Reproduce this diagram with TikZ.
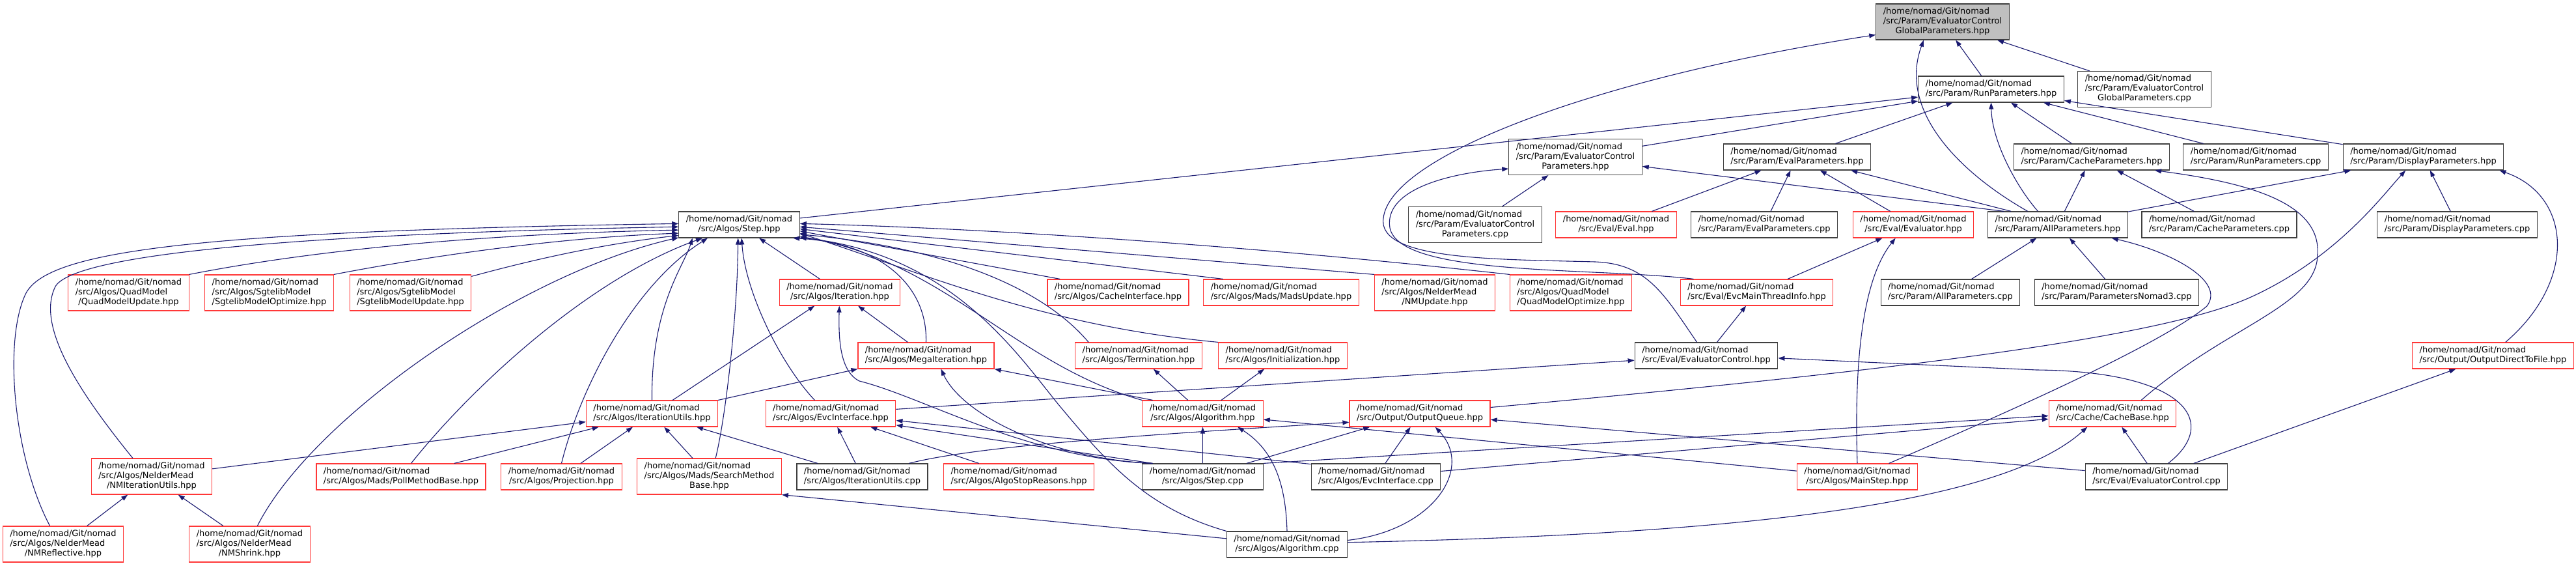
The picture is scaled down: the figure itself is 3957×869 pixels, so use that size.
\documentclass[tikz,border=0pt]{standalone}
\usepackage{fontspec}
\setmainfont{DejaVu Sans}
\usepackage{tikz}
\usetikzlibrary{arrows.meta}
\definecolor{edgeblue}{RGB}{25,25,112}
\definecolor{linkred}{RGB}{255,55,55}
\newcommand{\nomadpath}[1]{\begin{tabular}{@{}l@{}}/home/nomad/Git/nomad\\\multicolumn{1}{@{}c@{}}{#1}\end{tabular}}
\newcommand{\nomadpathii}[2]{\begin{tabular}{@{}l@{}}/home/nomad/Git/nomad\\#1\\\multicolumn{1}{@{}c@{}}{#2}\end{tabular}}
\begin{document}
\begin{tikzpicture}[x=1pt, y=-1pt,
  hdr/.style={rectangle, draw=black!75, fill=white, line width=1.2pt,
              inner xsep=11pt, inner ysep=5pt, font=\fontsize{13}{15}\selectfont},
  redhdr/.style={hdr, draw=linkred},
  roothdr/.style={hdr, fill=black!25},
  incl/.style={-{Stealth[length=10pt, width=7pt, inset=0pt]}, line width=1.1pt, edgeblue}
]
\useasboundingbox (0,0) rectangle (3957,869);

\node[roothdr] (root) at (2984,33.5) {\nomadpathii{/src/Param/EvaluatorControl}{GlobalParameters.hpp}};
\node[hdr] (runH) at (3058.5,137) {\nomadpath{/src/Param/RunParameters.hpp}};
\node[hdr] (ecgpC) at (3294,137) {\nomadpathii{/src/Param/EvaluatorControl}{GlobalParameters.cpp}};
\node[hdr] (ecpH) at (2420,241) {\nomadpathii{/src/Param/EvaluatorControl}{Parameters.hpp}};
\node[hdr] (evpH) at (2760.5,241) {\nomadpath{/src/Param/EvalParameters.hpp}};
\node[hdr] (cachepH) at (3213,241) {\nomadpath{/src/Param/CacheParameters.hpp}};
\node[hdr] (runC) at (3465,241) {\nomadpath{/src/Param/RunParameters.cpp}};
\node[hdr] (dispH) at (3722.5,241) {\nomadpath{/src/Param/DisplayParameters.hpp}};
\node[hdr] (stepH) at (1135.5,345) {\nomadpath{/src/Algos/Step.hpp}};
\node[hdr] (ecpC) at (2266,345) {\nomadpathii{/src/Param/EvaluatorControl}{Parameters.cpp}};
\node[redhdr] (evalH) at (2482.5,345) {\nomadpath{/src/Eval/Eval.hpp}};
\node[hdr] (evpC) at (2710,345) {\nomadpath{/src/Param/EvalParameters.cpp}};
\node[redhdr] (evaluatorH) at (2939,345) {\nomadpath{/src/Eval/Evaluator.hpp}};
\node[hdr] (allpH) at (3161,345) {\nomadpath{/src/Param/AllParameters.hpp}};
\node[hdr] (cachepC) at (3409,345) {\nomadpath{/src/Param/CacheParameters.cpp}};
\node[hdr] (dispC) at (3774.5,345) {\nomadpath{/src/Param/DisplayParameters.cpp}};
\node[redhdr] (qmUpd) at (197.5,449.5) {\nomadpathii{/src/Algos/QuadModel}{/QuadModelUpdate.hpp}};
\node[redhdr] (sgOpt) at (413.5,449.5) {\nomadpathii{/src/Algos/SgtelibModel}{/SgtelibModelOptimize.hpp}};
\node[redhdr] (sgUpd) at (630.5,449.5) {\nomadpathii{/src/Algos/SgtelibModel}{/SgtelibModelUpdate.hpp}};
\node[redhdr] (iterH) at (1290,449) {\nomadpath{/src/Algos/Iteration.hpp}};
\node[redhdr] (cacheIf) at (1717.5,449) {\nomadpath{/src/Algos/CacheInterface.hpp}};
\node[redhdr] (madsUpd) at (1968,449) {\nomadpath{/src/Algos/Mads/MadsUpdate.hpp}};
\node[redhdr] (nmUpd) at (2204,449.5) {\nomadpathii{/src/Algos/NelderMead}{/NMUpdate.hpp}};
\node[redhdr] (qmOpt) at (2413,449.5) {\nomadpathii{/src/Algos/QuadModel}{/QuadModelOptimize.hpp}};
\node[redhdr] (evcMain) at (2698.5,449) {\nomadpath{/src/Eval/EvcMainThreadInfo.hpp}};
\node[hdr] (allpC) at (2996,449) {\nomadpath{/src/Param/AllParameters.cpp}};
\node[hdr] (nomad3C) at (3251.5,449) {\nomadpath{/src/Param/ParametersNomad3.cpp}};
\node[redhdr] (megaH) at (1422.5,546) {\nomadpath{/src/Algos/MegaIteration.hpp}};
\node[redhdr] (termH) at (1749,546) {\nomadpath{/src/Algos/Termination.hpp}};
\node[redhdr] (initH) at (1970.5,546) {\nomadpath{/src/Algos/Initialization.hpp}};
\node[hdr] (evcH) at (2621,546) {\nomadpath{/src/Eval/EvaluatorControl.hpp}};
\node[redhdr] (outFile) at (3829.5,546) {\nomadpath{/src/Output/OutputDirectToFile.hpp}};
\node[redhdr] (iuH) at (1001.5,635) {\nomadpath{/src/Algos/IterationUtils.hpp}};
\node[redhdr] (evcIfH) at (1276,635) {\nomadpath{/src/Algos/EvcInterface.hpp}};
\node[redhdr] (algoH) at (1847.5,635) {\nomadpath{/src/Algos/Algorithm.hpp}};
\node[redhdr] (outQ) at (2181,635) {\nomadpath{/src/Output/OutputQueue.hpp}};
\node[redhdr] (cacheB) at (3245,635) {\nomadpath{/src/Cache/CacheBase.hpp}};
\node[redhdr] (nmIU) at (233,731.5) {\nomadpathii{/src/Algos/NelderMead}{/NMIterationUtils.hpp}};
\node[redhdr] (pollH) at (616,732) {\nomadpath{/src/Algos/Mads/PollMethodBase.hpp}};
\node[redhdr] (projH) at (862.5,732) {\nomadpath{/src/Algos/Projection.hpp}};
\node[redhdr] (searchH) at (1089.5,731.5) {\nomadpathii{/src/Algos/Mads/SearchMethod}{Base.hpp}};
\node[hdr] (iuC) at (1324.5,732) {\nomadpath{/src/Algos/IterationUtils.cpp}};
\node[redhdr] (stopR) at (1565,732) {\nomadpath{/src/Algos/AlgoStopReasons.hpp}};
\node[hdr] (stepC) at (1847.5,732) {\nomadpath{/src/Algos/Step.cpp}};
\node[hdr] (evcIfC) at (2113.5,732) {\nomadpath{/src/Algos/EvcInterface.cpp}};
\node[redhdr] (mainStep) at (2853,732) {\nomadpath{/src/Algos/MainStep.hpp}};
\node[hdr] (ecC) at (3312.5,732) {\nomadpath{/src/Eval/EvaluatorControl.cpp}};
\node[redhdr] (nmRefl) at (97,835.5) {\nomadpathii{/src/Algos/NelderMead}{/NMReflective.hpp}};
\node[redhdr] (nmShrink) at (383.5,835.5) {\nomadpathii{/src/Algos/NelderMead}{/NMShrink.hpp}};
\node[hdr] (algoC) at (1977,836) {\nomadpath{/src/Algos/Algorithm.cpp}};

\draw[incl] (runH) -- (root);
\draw[incl] (ecgpC) -- (root);
\draw[incl] (allpH.156) .. controls (3010,265) and (2915,170) .. (root.224);
\draw[incl] (evcH.125) .. controls (2555,450) and (2530,405) .. (2450,402) .. controls (2300,398) and (2115,400) .. (2125,335) .. controls (2135,240) and (2450,120) .. (root.191);

\draw[incl] (stepH) -- (runH);
\draw[incl] (ecpH) -- (runH);
\draw[incl] (evpH) -- (runH);
\draw[incl] (allpH.146) .. controls (3100,290) and (3060,220) .. (runH.south);
\draw[incl] (cachepH) -- (runH);
\draw[incl] (runC) -- (runH);
\draw[incl] (dispH) -- (runH);

\draw[incl] (evcMain.168) .. controls (2450,410) and (2150,425) .. (2135,350) .. controls (2125,290) and (2230,265) .. (ecpH.190);
\draw[incl] (ecpC) -- (ecpH);
\draw[incl] (allpH.166) -- (ecpH.352);

\draw[incl] (evalH) -- (evpH);
\draw[incl] (evpC) -- (evpH);
\draw[incl] (evaluatorH) -- (evpH);
\draw[incl] (allpH.164) -- (evpH.346);

\draw[incl] (allpH) -- (cachepH);
\draw[incl] (cachepC) -- (cachepH);
\draw[incl] (cacheB.25) .. controls (3420,500) and (3560,470) .. (3560,390) .. controls (3565,310) and (3450,280) .. (cachepH.348);

\draw[incl] (allpH) -- (dispH);
\draw[incl] (dispC) -- (dispH);
\draw[incl] (outQ.5) .. controls (2900,570) and (3320,520) .. (3460,455) .. controls (3590,395) and (3660,300) .. (dispH.217);
\draw[incl] (outFile.47) .. controls (3960,430) and (3950,300) .. (dispH.350);

\draw[incl] (allpC) -- (allpH);
\draw[incl] (nomad3C) -- (allpH);
\draw[incl] (mainStep.23) .. controls (3150,605) and (3330,520) .. (3390,470) .. controls (3420,430) and (3330,385) .. (allpH.346);

\draw[incl] (nmRefl.126) .. controls (20,700) and (5,520) .. (40,450) .. controls (75,385) and (300,355) .. (stepH.179);
\draw[incl] (nmIU.136) .. controls (120,600) and (55,500) .. (85,440) .. controls (110,395) and (400,360) .. (stepH.182);
\draw[incl] (qmUpd.north east) .. controls (450,390) and (700,360) .. (stepH.185);
\draw[incl] (sgOpt.north east) .. controls (650,395) and (850,365) .. (stepH.188);
\draw[incl] (sgUpd.15) .. controls (850,390) and (950,372) .. (stepH.190);
\draw[incl] (nmShrink.67) .. controls (480,640) and (800,420) .. (stepH.192);
\draw[incl] (iuH.north) .. controls (1000,470) and (1050,410) .. (stepH.196);
\draw[incl] (pollH.53) .. controls (720,600) and (900,430) .. (stepH.200);
\draw[incl] (projH.north) .. controls (890,600) and (970,440) .. (stepH.203);
\draw[incl] (searchH.71) .. controls (1115,640) and (1133,480) .. (stepH.265);
\draw[incl] (evcIfH.140) .. controls (1200,560) and (1145,450) .. (stepH.280);
\draw[incl] (iterH) -- (stepH);
\draw[incl] (megaH.north) .. controls (1425,430) and (1340,372) .. (stepH.346);
\draw[incl] (cacheIf.167) -- (stepH.354.5);
\draw[incl] (madsUpd.167) -- (stepH.356.5);
\draw[incl] (nmUpd.north west) -- (stepH.358.5);
\draw[incl] (qmOpt.north west) .. controls (1900,375) and (1500,350) .. (stepH.1);
\draw[incl] (termH.165) .. controls (1600,440) and (1450,380) .. (stepH.351);
\draw[incl] (initH.north west) .. controls (1600,500) and (1420,420) .. (stepH.352.5);
\draw[incl] (algoH.north west) .. controls (1560,560) and (1450,400) .. (stepH.349.5);
\draw[incl] (algoC.north west) .. controls (1760,780) and (1700,710) .. (1625,620) .. controls (1560,540) and (1460,390) .. (stepH.348);

\draw[incl] (iuH.33) -- (iterH.208);
\draw[incl] (megaH) -- (iterH);
\draw[incl] (stepC.165) .. controls (1580,705) and (1420,610) .. (1320,585) .. controls (1290,570) and (1288,520) .. (iterH.268);

\draw[incl] (iuH.north east) -- (megaH.191);
\draw[incl] (stepC.165) .. controls (1620,705) and (1480,640) .. (megaH.318);
\draw[incl] (algoH.165) -- (megaH.south east);

\draw[incl] (algoH) -- (termH);
\draw[incl] (algoH) -- (initH);

\draw[incl] (evcMain) -- (evaluatorH);
\draw[incl] (mainStep.north) .. controls (2848,560) and (2860,430) .. (evaluatorH.217);
\draw[incl] (evcH) -- (evcMain);

\draw[incl] (evcIfH) -- (evcH);
\draw[incl] (ecC.49) .. controls (3410,650) and (3360,570) .. (3128,568) -- (evcH.358);

\draw[incl] (nmIU) -- (iuH);
\draw[incl] (pollH) -- (iuH);
\draw[incl] (projH) -- (iuH);
\draw[incl] (searchH) -- (iuH);
\draw[incl] (iuC) -- (iuH);

\draw[incl] (iuC) -- (evcIfH);
\draw[incl] (stopR) -- (evcIfH);
\draw[incl] (stepC.165) -- (evcIfH.350);
\draw[incl] (evcIfC.169) -- (evcIfH.354);

\draw[incl] (stepC) -- (algoH);
\draw[incl] (algoC.north) .. controls (1975,740) and (1955,690) .. (algoH.339);
\draw[incl] (mainStep) -- (algoH);

\draw[incl] (iuC.16) .. controls (1500,685) and (1750,668) .. (outQ.187);
\draw[incl] (stepC.17) -- (outQ.195);
\draw[incl] (evcIfC) -- (outQ);
\draw[incl] (algoC.4) .. controls (2200,815) and (2265,720) .. (outQ.319);
\draw[incl] (ecC) -- (outQ);

\draw[incl] (stepC.north east) -- (cacheB.182);
\draw[incl] (evcIfC) -- (cacheB);
\draw[incl] (algoC.2) .. controls (2700,820) and (3080,770) .. (cacheB.208);
\draw[incl] (ecC) -- (cacheB);

\draw[incl] (ecC) -- (outFile);
\draw[incl] (nmRefl) -- (nmIU);
\draw[incl] (nmShrink) -- (nmIU);
\draw[incl] (algoC) -- (searchH.south east);
\end{tikzpicture}
\end{document}
